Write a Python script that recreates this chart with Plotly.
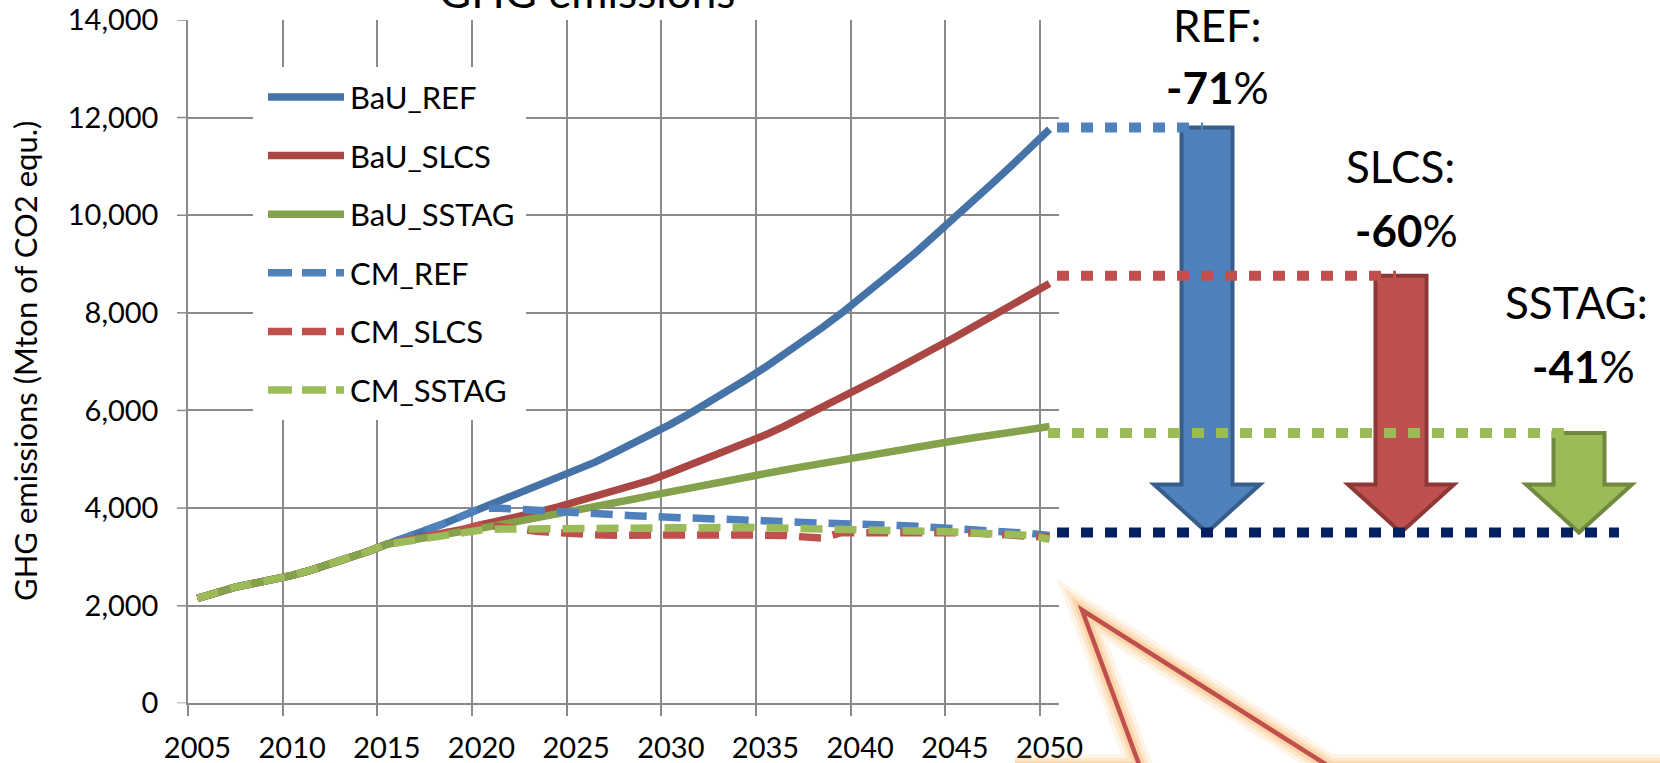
import plotly.graph_objects as go

W, H = 1660, 763

# ---------------------------------------------------------------- data
years = list(range(2005, 2051))
label_years = list(range(2005, 2051, 5))
y_ticks = list(range(0, 14001, 2000))

# historical emissions 2005-2015, shared by every scenario (Mton CO2 eq.)
hist = [2150, 2270, 2380, 2460, 2530, 2620, 2730, 2850, 2970, 3110, 3260]

# projections 2016-2050
bau_ref = [3390, 3530, 3680, 3840, 4000, 4150, 4300, 4450, 4600, 4760,
           4940, 5130, 5320, 5520, 5720, 5940, 6160, 6390, 6640, 6890,
           7150, 7420, 7700, 7990, 8290, 8600, 8930, 9260, 9600, 9950,
           10300, 10660, 11020, 11380, 11760]
bau_slcs = [3330, 3390, 3460, 3560, 3660, 3740, 3830, 3920, 4020, 4130,
            4240, 4350, 4460, 4580, 4730, 4880, 5030, 5190, 5340, 5500,
            5680, 5870, 6060, 6260, 6460, 6660, 6870, 7070, 7280, 7500,
            7720, 7930, 8150, 8370, 8600]
bau_sstag = [3320, 3380, 3440, 3510, 3590, 3660, 3730, 3800, 3870, 3950,
             4030, 4100, 4180, 4260, 4340, 4410, 4490, 4560, 4640, 4710,
             4780, 4850, 4920, 4990, 5060, 5120, 5190, 5250, 5320, 5380,
             5440, 5500, 5560, 5620, 5670]
cm_ref = [3390, 3530, 3680, 3840, 4000, 3995, 3970, 3940, 3910, 3890,
          3870, 3860, 3845, 3825, 3815, 3800, 3785, 3765, 3740, 3735,
          3725, 3705, 3700, 3690, 3675, 3660, 3645, 3625, 3605, 3585,
          3565, 3545, 3510, 3480, 3440]
cm_slcs = [3330, 3390, 3460, 3560, 3660, 3630, 3570, 3520, 3490, 3470,
           3455, 3445, 3440, 3435, 3430, 3430, 3440, 3450, 3450, 3450,
           3440, 3410, 3385, 3495, 3500, 3500, 3500, 3500, 3500, 3495,
           3490, 3475, 3455, 3430, 3400]
cm_sstag = [3320, 3380, 3440, 3500, 3550, 3570, 3570, 3560, 3555, 3560,
            3575, 3585, 3590, 3590, 3595, 3605, 3607, 3607, 3605, 3600,
            3595, 3588, 3580, 3572, 3560, 3550, 3535, 3528, 3518, 3510,
            3497, 3485, 3465, 3440, 3360]

series_names = ["BaU_REF", "BaU_SLCS", "BaU_SSTAG", "CM_REF", "CM_SLCS", "CM_SSTAG"]
series_proj = [bau_ref, bau_slcs, bau_sstag, cm_ref, cm_slcs, cm_sstag]
series_colors = ["#4572A7", "#AA4643", "#84A24B", "#4F81BD", "#C0504D", "#9BBB59"]
series_dash = ["solid", "solid", "solid", "22px,12px", "22px,12px", "22px,12px"]

# reduction arrows (scenario labels, start level, common target level)
scen_labels = ["REF", "SLCS", "SSTAG"]
drop_levels = [11800, 8760, 5540]
target_level = 3500
arrow_fill = ["#4F81BD", "#C0504D", "#9BBB59"]
arrow_edge = ["#385D8A", "#8C3836", "#71893F"]
level_colors = ["#4F81BD", "#C0504D", "#9BBB59"]
target_color = "#002060"

# ---------------------------------------------------------------- geometry helpers (pixels -> paper)
PL, PR, PT, PB = 188, 1059, 20, 703.3


def px(x):
    return x / W


def py(y):
    return 1 - y / H


Y_MAX = 14000
UNITS_PER_PX = Y_MAX / (PB - PT)

GRID = "#8A8A8A"
FONT = "Lato, 'Open Sans', sans-serif"
LINE_W = 7.5

fig = go.Figure()
for name, proj, col, dash in zip(series_names, series_proj, series_colors, series_dash):
    fig.add_trace(go.Scatter(
        x=years, y=hist + proj, mode="lines", name=name,
        line=dict(color=col, width=LINE_W, dash=dash),
        showlegend=False, hoverinfo="x+y+name",
    ))

shapes = []
annotations = []

# outside tick marks on the value axis
for v in y_ticks:
    shapes.append(dict(type="line", xref="paper", yref="y",
                       x0=px(PL - 11), x1=px(PL), y0=v, y1=v,
                       line=dict(color=GRID, width=1.5), layer="above"))

# legend box drawn inside the plot area
shapes.append(dict(type="rect", xref="paper", yref="paper",
                   x0=px(253), x1=px(526), y0=py(420), y1=py(67),
                   fillcolor="white", line=dict(width=0), layer="above"))
for i, (name, col, dash) in enumerate(zip(series_names, series_colors, series_dash)):
    yy = 97 + i * 58.6
    shapes.append(dict(type="line", xref="paper", yref="paper",
                       x0=px(268), x1=px(344), y0=py(yy), y1=py(yy),
                       line=dict(color=col, width=LINE_W,
                                 dash="solid" if dash == "solid" else "24px,10px"),
                       layer="above"))
    annotations.append(dict(text=name, xref="paper", yref="paper",
                            x=px(348), y=py(yy), xanchor="left", yanchor="middle",
                            showarrow=False, font=dict(family=FONT, size=31, color="black")))

# reduction arrows
arrow_cx = [1207, 1401, 1579]
shaft_hw, head_hw, head_len = 25.5, 53, 48
for cx, top, fc, ec in zip(arrow_cx, drop_levels, arrow_fill, arrow_edge):
    base = target_level + head_len * UNITS_PER_PX
    pts = [(cx - shaft_hw, top), (cx + shaft_hw, top), (cx + shaft_hw, base),
           (cx + head_hw, base), (cx, target_level), (cx - head_hw, base),
           (cx - shaft_hw, base)]
    path = "M " + " L ".join(f"{px(a):.5f},{b:.1f}" for a, b in pts) + " Z"
    shapes.append(dict(type="path", xref="paper", yref="y", path=path,
                       fillcolor=fc, line=dict(color=ec, width=4), layer="above"))

# dotted guide lines from each BaU level and the common target level
level_x = [(1057, 1203), (1057, 1396), (1048, 1564)]
for (x0, x1), lv, col in zip(level_x, drop_levels, level_colors):
    shapes.append(dict(type="line", xref="paper", yref="y",
                       x0=px(x0), x1=px(x1), y0=lv, y1=lv,
                       line=dict(color=col, width=10, dash="12px,12px"), layer="above"))
shapes.append(dict(type="line", xref="paper", yref="y",
                   x0=px(1057), x1=px(1619), y0=target_level, y1=target_level,
                   line=dict(color=target_color, width=10, dash="12px,12px"), layer="above"))

# scenario labels with the 2050 reduction (BaU -> CM)
lab_pos = [(1217, 25, 1217, 87), (1400, 166, 1406, 230), (1576, 302, 1583, 366)]
bau_end = [bau_ref[-1], bau_slcs[-1], bau_sstag[-1]]
cm_end = [cm_ref[-1], cm_slcs[-1], cm_sstag[-1]]
for lab, (x1, y1, x2, y2), b, c in zip(scen_labels, lab_pos, bau_end, cm_end):
    pct = round(100 * (1 - c / b))
    annotations.append(dict(text=f"{lab}:", xref="paper", yref="paper", x=px(x1), y=py(y1),
                            xanchor="center", yanchor="middle", showarrow=False,
                            font=dict(family=FONT, size=44, color="black")))
    annotations.append(dict(text=f"<b>-{pct}</b>%", xref="paper", yref="paper", x=px(x2), y=py(y2),
                            xanchor="center", yanchor="middle", showarrow=False,
                            font=dict(family=FONT, size=44, color="black")))

# chart title (top edge of the slide cuts it) and y-axis title
annotations.append(dict(text="GHG emissions", xref="paper", yref="paper", x=px(587), y=py(-9),
                        xanchor="center", yanchor="middle", showarrow=False,
                        font=dict(family=FONT, size=44, color="black")))
annotations.append(dict(text="GHG emissions (Mton of CO2 equ.)", xref="paper", yref="paper",
                        x=px(25), y=py(361), xanchor="center", yanchor="middle",
                        textangle=-90, showarrow=False,
                        font=dict(family=FONT, size=31, color="black")))

# callout pointer with soft orange glow
callout = [(1015, 767), (1140, 767), (1082, 610), (1330, 767), (1700, 767)]
cpath = "M " + " L ".join(f"{px(a):.5f},{py(b):.5f}" for a, b in callout)
for wdt, alpha in [(26, 0.14), (18, 0.2), (11, 0.32)]:
    shapes.append(dict(type="path", xref="paper", yref="paper", path=cpath,
                       line=dict(color=f"rgba(250,176,90,{alpha})", width=wdt), layer="above"))
shapes.append(dict(type="path", xref="paper", yref="paper", path=cpath,
                   line=dict(color="#C0504D", width=4.5), layer="above"))

fig.update_layout(
    width=W, height=H,
    margin=dict(l=0, r=0, t=0, b=0),
    paper_bgcolor="white", plot_bgcolor="white",
    font=dict(family=FONT, size=29, color="black"),
    showlegend=False,
    xaxis=dict(
        domain=[px(PL), px(PR)], range=[2004.5, 2050.5], automargin=False,
        tickmode="array", tickvals=label_years, ticktext=[str(y) for y in label_years],
        ticks="", showgrid=False, zeroline=False,
        showline=True, linecolor=GRID, linewidth=1.5,
        tickfont=dict(family=FONT, size=29, color="black"),
        ticklabelstandoff=18,
        minor=dict(tickmode="array", tickvals=[y - 0.5 for y in label_years],
                   showgrid=True, gridcolor=GRID, gridwidth=1.5,
                   ticks="outside", ticklen=11, tickcolor=GRID, tickwidth=1.5),
    ),
    yaxis=dict(
        domain=[py(PB), py(PT)], range=[0, Y_MAX], tickmode="array", tickvals=y_ticks,
        tickformat=",d", automargin=False,
        showgrid=True, gridcolor=GRID, gridwidth=1.5, zeroline=False,
        ticks="", showline=True, linecolor=GRID, linewidth=1.5,
        tickfont=dict(family=FONT, size=29, color="black"),
        ticklabelstandoff=22,
    ),
    shapes=shapes,
    annotations=annotations,
)

fig.write_html("out.html")
